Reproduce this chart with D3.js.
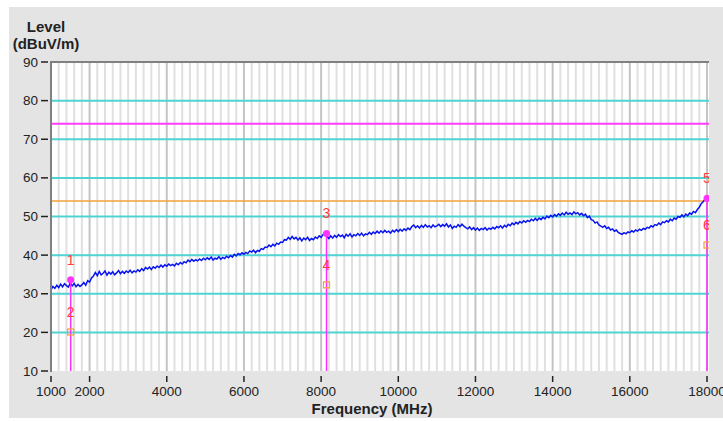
<html>
<script src="https://d3js.org/d3.v7.min.js"></script>
<style>
body {margin: 0; background: white;}
text {font-family: "Liberation Sans", Arial, sans-serif;}
</style>
<body>
<svg id="chart" width="723" height="421"></svg>
<script>
// sweep: 1000 .. 18000 MHz, one reading every 50 MHz (20 per row = 1000 MHz)
var freqStart = 1000, freqStep = 50;
var levels = [
  31.0, 31.9, 31.4, 32.2, 31.6, 32.5, 31.8, 32.6, 32.1, 31.7, 32.8, 32.0, 32.7, 31.8, 32.4, 31.9, 32.3, 32.9, 32.2, 33.4,
  33.0, 34.1, 34.6, 35.5, 34.7, 35.8, 34.9, 35.3, 35.9, 34.8, 35.6, 35.1, 35.7, 34.9, 35.4, 36.0, 35.2, 35.8, 35.3, 35.9,
  35.5, 36.1, 35.4, 35.9, 35.6, 36.2, 35.8, 36.5, 36.0, 36.8, 36.4, 36.9, 36.3, 37.0, 36.6, 37.2, 36.8, 37.4, 36.9, 37.5,
  37.1, 37.7, 37.3, 37.6, 37.2, 37.9, 37.5, 38.1, 37.7, 38.3, 38.0, 38.7, 38.3, 38.9, 38.4, 38.8, 38.5, 39.0, 38.6, 39.2,
  38.8, 39.3, 38.9, 39.5, 38.7, 39.2, 39.0, 39.6, 38.9, 39.4, 39.1, 39.7, 39.3, 39.9, 39.5, 40.2, 39.8, 40.4, 40.1, 40.6,
  40.2, 40.7, 40.4, 41.1, 40.8, 41.3, 40.6, 41.2, 41.0, 41.7, 41.5, 42.1, 42.0, 42.6, 42.2, 42.8, 42.4, 43.1, 42.8, 43.4,
  43.3, 44.0, 43.9, 44.6, 44.1, 44.8, 44.2, 44.6, 43.9, 44.5, 43.7, 44.4, 44.0, 44.6, 43.8, 44.3, 44.0, 44.7, 44.3, 45.0,
  44.6, 45.3, 45.6, 44.9, 44.3, 45.0, 44.4, 45.1, 44.6, 45.3, 44.8, 45.2, 44.5, 45.4, 44.9, 45.5, 44.7, 45.3, 45.0, 45.6,
  45.1, 45.7, 45.0, 45.5, 45.3, 45.9, 45.4, 46.0, 45.6, 46.2, 45.7, 46.3, 45.8, 46.4, 45.9, 46.2, 45.7, 46.4, 46.0, 46.6,
  46.1, 46.7, 46.2, 46.8, 46.4, 47.0, 46.6, 47.4, 47.8, 47.1, 47.6, 47.0, 47.7, 47.2, 47.9, 47.3, 47.6, 47.1, 47.8, 47.3,
  47.6, 48.0, 47.4, 47.9, 47.5, 48.1, 47.3, 47.8, 46.9, 47.5, 47.2, 47.9, 47.4, 48.0, 47.5, 47.1, 46.8, 47.3, 46.6, 47.1,
  46.5, 47.0, 46.4, 46.9, 46.6, 47.1, 46.5, 47.0, 46.7, 47.2, 46.8, 47.4, 47.1, 47.6, 47.0, 47.7, 47.3, 48.0, 47.6, 48.3,
  47.9, 48.5, 48.1, 48.7, 48.3, 48.9, 48.5, 49.0, 48.7, 49.3, 48.9, 49.5, 49.0, 49.6, 49.2, 49.8, 49.4, 50.1, 49.7, 50.3,
  49.9, 50.5, 50.1, 50.7, 50.3, 50.9, 50.4, 51.1, 50.6, 50.9, 50.5, 51.2, 50.7, 51.0, 50.4, 50.8, 50.2, 50.6, 49.7, 50.1,
  49.2, 49.0, 48.3, 48.6, 47.8, 47.5, 47.2, 47.6, 46.9, 47.2, 46.5, 46.8, 46.2, 46.5, 45.9, 45.6, 45.4, 45.8, 45.5, 46.0,
  45.8, 46.3, 46.0, 46.5, 46.2, 46.7, 46.4, 46.9, 46.7, 47.2, 47.0, 47.6, 47.3, 47.9, 47.7, 48.3, 47.9, 48.6, 48.4, 48.9,
  48.6, 49.3, 48.9, 49.6, 49.3, 50.0, 49.8, 50.4, 49.9, 50.6, 50.2, 50.9, 50.6, 51.3, 51.0, 51.8, 52.4, 53.3, 53.8, 54.5,
  54.8
];

var markerNo    = [1, 2, 3, 4, 5, 6];
var markerFreq  = [1510, 1510, 8140, 8140, 18000, 18000];
var markerLevel = [33.6, 20.1, 45.6, 32.3, 54.7, 42.6];
var markerKind  = ['peak', 'qp', 'peak', 'qp', 'peak', 'qp'];

var limitLevels = [74, 54];
var limitColors = ['#ff3cff', '#f2a23a'];

var xTicks = [1000, 2000, 4000, 6000, 8000, 10000, 12000, 14000, 16000, 18000];
var yTicks = [10, 20, 30, 40, 50, 60, 70, 80, 90];

var svg = d3.select('#chart');

var x = d3.scaleLinear().domain([1000, 18000]).range([51, 707]);
var y = d3.scaleLinear().domain([10, 90]).range([371, 62]);

// grey panel
svg.append('rect').attr('x', 9).attr('y', 7).attr('width', 714).attr('height', 411)
  .attr('fill', '#e4e4e4');
svg.append('rect').attr('x', 51).attr('y', 62).attr('width', 658).attr('height', 309)
  .attr('fill', 'white');

svg.append('clipPath').attr('id', 'plotclip')
  .append('rect').attr('x', 51).attr('y', 62).attr('width', 658).attr('height', 309);

var plot = svg.append('g').attr('clip-path', 'url(#plotclip)');

// vertical grid every 200 MHz, darker every 2000
var vgrid = d3.range(1200, 18001, 200);
plot.selectAll('.vg').data(vgrid).enter().append('line')
  .attr('x1', d => x(d)).attr('x2', d => x(d))
  .attr('y1', 62).attr('y2', 371)
  .attr('stroke', d => (d % 2000 == 0) ? '#c4c4c4' : '#e0e0e0')
  .attr('stroke-width', 2);

// horizontal cyan grid
plot.selectAll('.hg').data(yTicks.filter(d => d > 10 && d < 90)).enter().append('line')
  .attr('x1', 51).attr('x2', 709)
  .attr('y1', d => y(d)).attr('y2', d => y(d))
  .attr('stroke', '#4fd3d3').attr('stroke-width', 2);

// limit lines
plot.selectAll('.lim').data(limitLevels).enter().append('line')
  .attr('x1', 51).attr('x2', 709)
  .attr('y1', d => y(d)).attr('y2', d => y(d))
  .attr('stroke', (d, i) => limitColors[i]).attr('stroke-width', (d, i) => i == 0 ? 2 : 1.5);

// trace
var line = d3.line()
  .x((d, i) => x(freqStart + i * freqStep))
  .y(d => y(d));
plot.append('path').datum(levels)
  .attr('d', line)
  .attr('fill', 'none')
  .attr('stroke', '#0814f0')
  .attr('stroke-width', 1.5);

// markers
var mk = markerNo.map((n, i) => ({n: n, f: markerFreq[i], v: markerLevel[i], k: markerKind[i]}));

plot.selectAll('.mline').data(mk.filter(d => d.k == 'peak')).enter().append('line')
  .attr('x1', d => x(d.f)).attr('x2', d => x(d.f))
  .attr('y1', d => y(d.v)).attr('y2', 371)
  .attr('stroke', '#ff2cff').attr('stroke-width', 1.5);

plot.selectAll('.mdot').data(mk.filter(d => d.k == 'peak')).enter().append('circle')
  .attr('cx', d => x(d.f)).attr('cy', d => y(d.v)).attr('r', 3.5)
  .attr('fill', '#ff33ff');

plot.selectAll('.msq').data(mk.filter(d => d.k == 'qp')).enter().append('rect')
  .attr('x', d => x(d.f) - 3).attr('y', d => y(d.v) - 3)
  .attr('width', 6).attr('height', 6)
  .attr('fill', 'none').attr('stroke', '#f5a030').attr('stroke-width', 1.2);

plot.selectAll('.mlab').data(mk).enter().append('text')
  .attr('x', d => x(d.f)).attr('y', d => y(d.v) - 15)
  .attr('text-anchor', 'middle')
  .attr('font-size', '14px')
  .attr('fill', '#ff3b3b')
  .text(d => d.n);

// frame (left and top)
svg.append('line').attr('x1', 51).attr('x2', 51).attr('y1', 61).attr('y2', 372)
  .attr('stroke', '#808080').attr('stroke-width', 2);
svg.append('line').attr('x1', 50).attr('x2', 709).attr('y1', 62).attr('y2', 62)
  .attr('stroke', '#808080').attr('stroke-width', 2);

// y ticks
var yax = svg.append('g');
yax.selectAll('.yt').data(yTicks).enter().append('line')
  .attr('x1', 41).attr('x2', 48)
  .attr('y1', d => y(d)).attr('y2', d => y(d))
  .attr('stroke', '#222').attr('stroke-width', 1.5);
yax.selectAll('.yl').data(yTicks).enter().append('text')
  .attr('x', 38).attr('y', d => y(d) + 4.5)
  .attr('text-anchor', 'end')
  .attr('font-size', '13.5px').attr('fill', '#222')
  .text(d => d);

// x ticks
var xax = svg.append('g');
xax.selectAll('.xt').data(xTicks).enter().append('line')
  .attr('x1', d => x(d)).attr('x2', d => x(d))
  .attr('y1', 376).attr('y2', 382)
  .attr('stroke', '#222').attr('stroke-width', 1.5);
xax.selectAll('.xl').data(xTicks).enter().append('text')
  .attr('x', d => x(d)).attr('y', 396)
  .attr('text-anchor', 'middle')
  .attr('font-size', '13.5px').attr('fill', '#222')
  .text(d => d);

// axis titles
svg.append('text').attr('x', 46).attr('y', 31.5).attr('text-anchor', 'middle')
  .attr('font-size', '15px').attr('font-weight', 'bold').attr('fill', '#222')
  .text('Level');
svg.append('text').attr('x', 46).attr('y', 49).attr('text-anchor', 'middle')
  .attr('font-size', '15px').attr('font-weight', 'bold').attr('fill', '#222')
  .text('(dBuV/m)');
svg.append('text').attr('x', 372).attr('y', 414).attr('text-anchor', 'middle')
  .attr('font-size', '15px').attr('font-weight', 'bold').attr('fill', '#222')
  .text('Frequency (MHz)');
</script>
</body>
</html>
